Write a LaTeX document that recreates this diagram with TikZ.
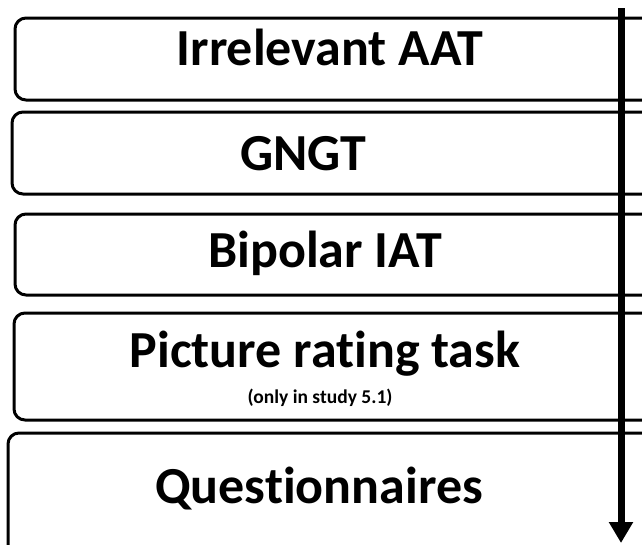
\documentclass[tikz,border=0pt]{standalone}
\usepackage{fontspec}
\setmainfont{Carlito}[Ligatures={NoCommon}]
\usetikzlibrary{arrows.meta}
\tikzset{
  stagebox/.style={draw=black, line width=3pt, rounded corners=11pt, fill=white},
  stagelabel/.style={font=\fontsize{52}{52}\selectfont\bfseries, anchor=base, inner sep=0pt},
  notelabel/.style={font=\fontsize{19.5}{19.5}\selectfont\bfseries, anchor=base, inner sep=0pt},
  timeline/.style={line width=7pt, -{Triangle[width=23pt,length=21pt]}}
}
\begin{document}
\begin{tikzpicture}[x=1pt,y=-1pt]
  \useasboundingbox (0,0) rectangle (642,544);
  \clip (0,0) rectangle (642,544);
  % stage boxes (open to the right)
  \draw[stagebox] (15,18) rectangle (680,100);
  \draw[stagebox] (12,112) rectangle (680,194);
  \draw[stagebox] (15,214) rectangle (680,295);
  \draw[stagebox] (14,313) rectangle (680,420);
  \draw[stagebox] (8,433) rectangle (680,560);
  % labels
  \node[stagelabel] (t1) at (330,65) {Irrelevant AAT};
  \node[stagelabel] (t2) at (303.5,170) {GNGT};
  \node[stagelabel] (t3) at (325,267) {Bipolar IAT};
  \node[stagelabel] (t4) at (325,367) {Picture rating task};
  \node[notelabel] (t4b) at (320,403) {(only in study 5.1)};
  \node[stagelabel] (t5) at (319,503) {Questionnaires};
  % time arrow
  \coordinate (tstart) at (621,8);
  \coordinate (tend) at (621,543);
  \draw[timeline] (tstart) -- (tend);
\end{tikzpicture}
\end{document}
